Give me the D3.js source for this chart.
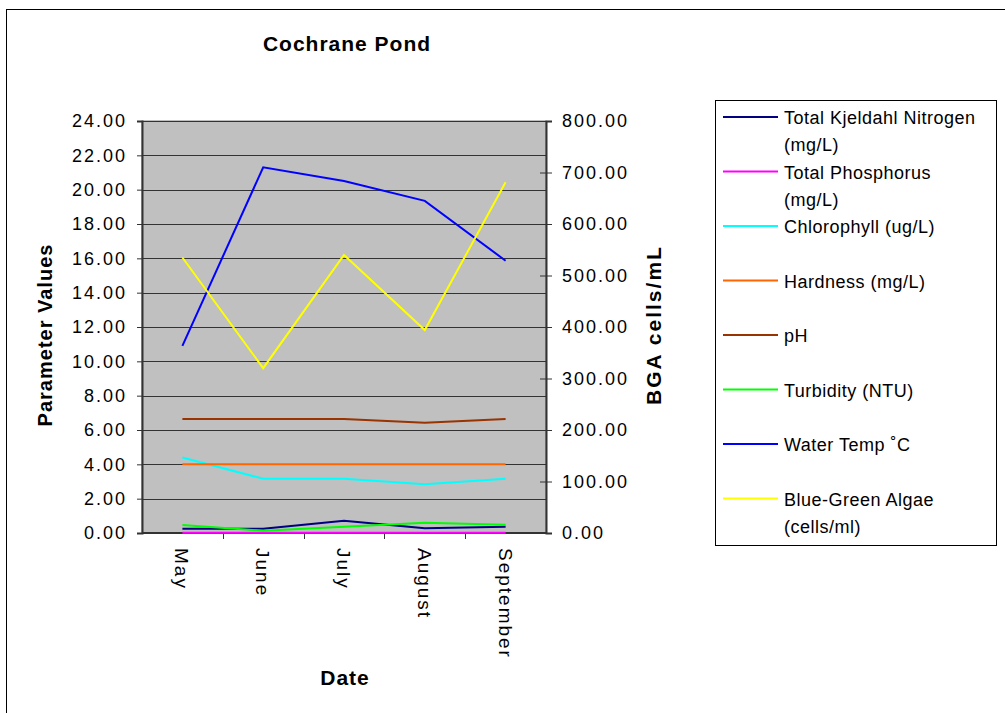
<!DOCTYPE html>
<html lang="en">
<head>
	<meta charset="utf-8">
	<title>Cochrane Pond</title>
	<script src="https://cdn.jsdelivr.net/npm/d3@7"></script>
	<style>
		body { margin: 0; background: #fff; }
		text { font-family: Arial, "Liberation Sans", sans-serif; }
	</style>
</head>
<body>
	<script>
		// Data
		const months = ["May", "June", "July", "August", "September"];
		const nitrogen = [0.25, 0.25, 0.72, 0.27, 0.37];
		const phosphorus = [0.02, 0.02, 0.02, 0.02, 0.02];
		const chlorophyll = [4.4, 3.16, 3.16, 2.84, 3.16];
		const hardness = [4.0, 4.0, 4.0, 4.0, 4.0];
		const ph = [6.64, 6.64, 6.64, 6.42, 6.64];
		const turbidity = [0.47, 0.13, 0.37, 0.6, 0.48];
		const waterTemp = [10.9, 21.3, 20.5, 19.35, 15.86];
		const algae = [535, 320, 540, 394, 681];
		const leftTicks = d3.range(0, 24.01, 2);
		const rightTicks = d3.range(0, 800.01, 100);

		const series = [
			{ name: ["Total Kjeldahl Nitrogen", "(mg/L)"], values: nitrogen, color: "#000080", axis: "left" },
			{ name: ["Total Phosphorus", "(mg/L)"], values: phosphorus, color: "#ff00ff", axis: "left" },
			{ name: ["Chlorophyll (ug/L)"], values: chlorophyll, color: "#00ffff", axis: "left" },
			{ name: ["Hardness (mg/L)"], values: hardness, color: "#ff6600", axis: "left" },
			{ name: ["pH"], values: ph, color: "#993300", axis: "left" },
			{ name: ["Turbidity (NTU)"], values: turbidity, color: "#00ff00", axis: "left" },
			{ name: ["Water Temp \u02DAC"], values: waterTemp, color: "#0000ff", axis: "left" },
			{ name: ["Blue-Green Algae", "(cells/ml)"], values: algae, color: "#ffff00", axis: "right" }
		];

		const w = 1005;
		const h = 713;
		const plot = { left: 142, top: 121, right: 546, bottom: 533 };

		const svg = d3.select("body")
			.append("svg")
			.attr("width", w)
			.attr("height", h);

		// outer chart frame (runs off the right/bottom edge)
		svg.append("rect")
			.attr("x", 6.5)
			.attr("y", 9.5)
			.attr("width", 1010)
			.attr("height", 720)
			.attr("fill", "none")
			.attr("stroke", "#000")
			.attr("stroke-width", 1);

		const x = d3.scaleBand()
			.domain(months)
			.range([plot.left, plot.right]);

		const yLeft = d3.scaleLinear()
			.domain([0, 24])
			.range([plot.bottom, plot.top]);

		const yRight = d3.scaleLinear()
			.domain([0, 800])
			.range([plot.bottom, plot.top]);

		// plot background
		svg.append("rect")
			.attr("x", plot.left)
			.attr("y", plot.top)
			.attr("width", plot.right - plot.left)
			.attr("height", plot.bottom - plot.top)
			.attr("fill", "#c0c0c0")
			.attr("stroke", "#808080")
			.attr("stroke-width", 1);

		// gridlines
		svg.selectAll("line.grid")
			.data(leftTicks.slice(1))
			.enter()
			.append("line")
			.attr("class", "grid")
			.attr("x1", plot.left)
			.attr("x2", plot.right)
			.attr("y1", d => Math.round(yLeft(d)) + 0.5)
			.attr("y2", d => Math.round(yLeft(d)) + 0.5)
			.attr("stroke", "#333")
			.attr("stroke-width", 1);

		// left axis
		const leftAxis = d3.axisLeft(yLeft)
			.tickValues(leftTicks)
			.tickFormat(d3.format(".2f"))
			.tickSize(5)
			.tickPadding(10);

		svg.append("g")
			.attr("transform", `translate(${plot.left},0)`)
			.call(leftAxis)
			.call(g => g.select(".domain").attr("stroke", "#333").attr("stroke-width", 2))
			.call(g => g.selectAll(".tick line").attr("stroke", "#333"))
			.call(g => g.selectAll("text").attr("font-size", "18px").attr("fill", "#000")
				.attr("letter-spacing", "2px")
				.attr("font-family", "Arial, 'Liberation Sans', sans-serif"));

		// right axis
		const rightAxis = d3.axisRight(yRight)
			.tickValues(rightTicks)
			.tickFormat(d3.format(".2f"))
			.tickSize(6)
			.tickPadding(10);

		svg.append("g")
			.attr("transform", `translate(${plot.right},0)`)
			.call(rightAxis)
			.call(g => g.select(".domain").attr("stroke", "#333").attr("stroke-width", 2))
			.call(g => g.selectAll(".tick line").attr("stroke", "#333").attr("x1", -6))
			.call(g => g.selectAll("text").attr("font-size", "18px").attr("fill", "#000")
				.attr("letter-spacing", "2px")
				.attr("font-family", "Arial, 'Liberation Sans', sans-serif"));

		// bottom axis
		svg.append("line")
			.attr("x1", plot.left)
			.attr("x2", plot.right)
			.attr("y1", plot.bottom)
			.attr("y2", plot.bottom)
			.attr("stroke", "#333")
			.attr("stroke-width", 2);

		svg.selectAll("line.xtick")
			.data(months.slice(1))
			.enter()
			.append("line")
			.attr("class", "xtick")
			.attr("x1", d => Math.round(x(d)) + 0.5)
			.attr("x2", d => Math.round(x(d)) + 0.5)
			.attr("y1", plot.bottom)
			.attr("y2", plot.bottom + 6)
			.attr("stroke", "#333");

		svg.selectAll("text.month")
			.data(months)
			.enter()
			.append("text")
			.attr("class", "month")
			.attr("transform", d => `translate(${x(d) + x.bandwidth() / 2 - 7},${plot.bottom + 15}) rotate(90)`)
			.attr("font-size", "19px")
			.attr("letter-spacing", "2px")
			.text(d => d);

		// lines
		const line = s => d3.line()
			.x((d, i) => x(months[i]) + x.bandwidth() / 2)
			.y(d => s.axis === "left" ? yLeft(d) : yRight(d));

		series.forEach(s => {
			svg.append("path")
				.datum(s.values)
				.attr("d", line(s))
				.attr("fill", "none")
				.attr("stroke", s.color)
				.attr("stroke-width", 2);
		});

		// titles
		svg.append("text")
			.attr("x", 347)
			.attr("y", 51)
			.attr("text-anchor", "middle")
			.attr("font-size", "21px")
			.attr("letter-spacing", "1px")
			.attr("font-weight", "bold")
			.text("Cochrane Pond");

		svg.append("text")
			.attr("transform", `translate(52,335) rotate(-90)`)
			.attr("text-anchor", "middle")
			.attr("font-size", "20px")
			.attr("letter-spacing", "1px")
			.attr("font-weight", "bold")
			.text("Parameter Values");

		svg.append("text")
			.attr("transform", `translate(661,325) rotate(-90)`)
			.attr("text-anchor", "middle")
			.attr("font-size", "21px")
			.attr("letter-spacing", "2px")
			.attr("font-weight", "bold")
			.text("BGA cells/mL");

		svg.append("text")
			.attr("x", 345)
			.attr("y", 685)
			.attr("text-anchor", "middle")
			.attr("font-size", "21px")
			.attr("letter-spacing", "1px")
			.attr("font-weight", "bold")
			.text("Date");

		// legend
		const legend = svg.append("g");
		legend.append("rect")
			.attr("x", 715.5)
			.attr("y", 100.5)
			.attr("width", 281)
			.attr("height", 445)
			.attr("fill", "#fff")
			.attr("stroke", "#000");

		const rows = legend.selectAll("g.row")
			.data(series)
			.enter()
			.append("g")
			.attr("class", "row")
			.attr("transform", (d, i) => `translate(0,${117 + i * 54.5})`);

		rows.append("line")
			.attr("x1", 723)
			.attr("x2", 778)
			.attr("y1", 0)
			.attr("y2", 0)
			.attr("stroke", d => d.color)
			.attr("stroke-width", 2);

		rows.append("text")
			.attr("x", 784)
			.attr("y", 7)
			.attr("font-size", "18px")
			.attr("letter-spacing", "0.5px")
			.selectAll("tspan")
			.data(d => d.name)
			.enter()
			.append("tspan")
			.attr("x", 784)
			.attr("dy", (d, i) => i === 0 ? 0 : 27)
			.text(d => d);
	</script>
</body>
</html>
